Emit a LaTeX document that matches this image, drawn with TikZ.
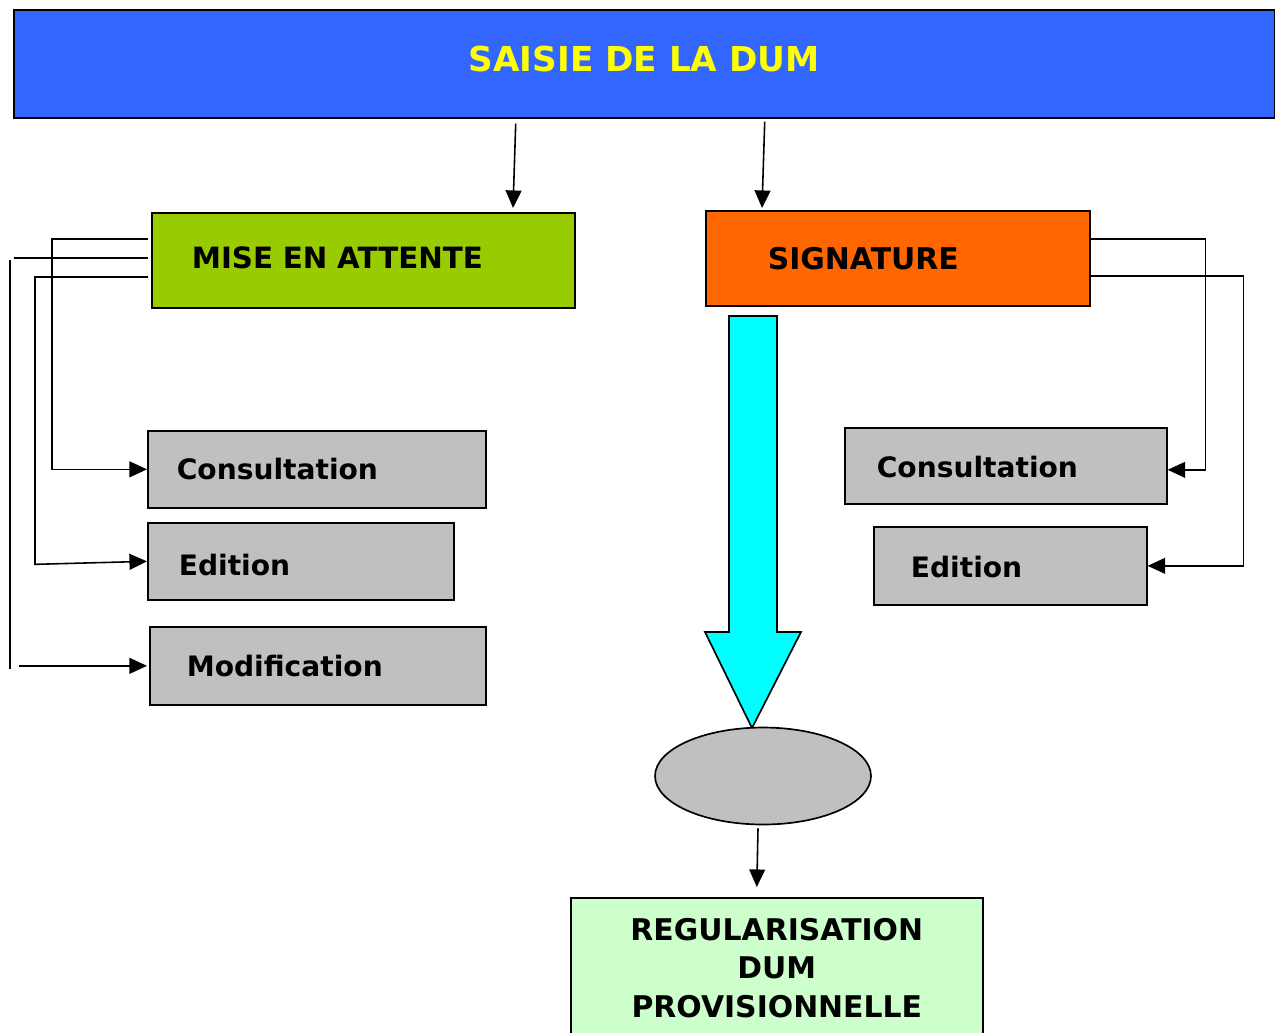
\documentclass[tikz,border=0pt]{standalone}
\usepackage{fontspec}
\setmainfont{DejaVu Sans}
\usepackage{xcolor}
\usepackage{tikz}
\usetikzlibrary{arrows.meta,positioning,shapes.geometric,calc}

\definecolor{saisieblue}{HTML}{3366FF}
\definecolor{attentegreen}{HTML}{99CC00}
\definecolor{signorange}{HTML}{FF6600}
\definecolor{boxgray}{HTML}{C0C0C0}
\definecolor{regulgreen}{HTML}{CCFFCC}
\definecolor{flowcyan}{HTML}{00FFFF}
\definecolor{titleyellow}{HTML}{FFFF00}

\tikzset{
  box/.style={draw, line width=0.95pt, anchor=north west, align=left, inner ysep=0pt,
    font=\bfseries\fontsize{16}{19}\selectfont},
  arr/.style={-{Triangle[length=10pt,width=9pt]}, line width=0.9pt},
  link/.style={line width=0.9pt}
}

\begin{document}
\begin{tikzpicture}[x=0.02cm, y=-0.02cm]
    \clip (0,0) rectangle (1283,1032);

    % Top box
    \node[box, fill=saisieblue, align=center, minimum width=25.22cm, minimum height=2.16cm, text depth=0.2cm,
      font=\bfseries\fontsize{19.5}{23}\selectfont, text=titleyellow] (saisie) at (13,9) {SAISIE DE LA DUM};

    % Second row
    \node[box, fill=attentegreen, minimum height=1.9cm, inner xsep=0.8cm, text width=6.86cm, text depth=0.1cm,
      font=\bfseries\fontsize{16.7}{20}\selectfont] (mise) at (151,212) {MISE EN ATTENTE};
    \node[box, fill=signorange, minimum height=1.9cm, inner xsep=1.24cm, text width=5.2cm,
      font=\bfseries\fontsize{17}{20}\selectfont] (sign) at (705,210) {SIGNATURE};

    % Left actions
    \node[box, fill=boxgray, minimum height=1.54cm, inner xsep=0.58cm, text width=5.6cm] (cons1) at (147,430) {Consultation};
    \node[box, fill=boxgray, minimum height=1.54cm, inner xsep=0.62cm, text width=4.88cm, text height=16pt] (edit1) at (147,522) {Edition};
    \node[box, fill=boxgray, minimum height=1.56cm, inner xsep=0.74cm, text width=5.24cm] (mod) at (149,626) {Modification};

    % Right actions
    \node[box, fill=boxgray, minimum height=1.52cm, inner xsep=0.64cm, text width=5.16cm, text height=13.5pt] (cons2) at (844,427) {Consultation};
    \node[box, fill=boxgray, minimum height=1.56cm, inner xsep=0.74cm, text width=3.98cm, text height=14pt] (edit2) at (873,526) {Edition};

    % Big arrow and ellipse
    \filldraw[fill=flowcyan, line width=0.95pt] (729,316) -- (777,316) -- (777,632) -- (801,632) -- (752,728) -- (705,632) -- (729,632) -- cycle;
    \node[ellipse, draw, line width=0.95pt, fill=boxgray, minimum width=4.32cm, minimum height=1.94cm] (ell) at (763,776) {};

    % Bottom box
    \node[box, fill=regulgreen, align=center, minimum width=8.24cm, minimum height=2.8cm,
      font=\bfseries\fontsize{17}{21.8}\selectfont] (regul) at (570,897) {REGULARISATION\\DUM\\PROVISIONNELLE};

    % Connectors
    \draw[arr] ($(saisie.south)+(-128.5,5)$) -- ($(mise.north west)+(362,-4)$);
    \draw[arr] ($(saisie.south)+(120.5,3)$) -- ($(sign.north west)+(57,-2)$);
    \draw[arr] ($(ell.south)+(-5,3)$) -- ($(regul.north)+(-20,-10)$);

    \draw[arr] ($(mise.north west)+(-3,27)$) -| ($(cons1.west)+(-95,0)$) -- (cons1.west);
    \draw[arr] ($(mise.north west)+(-3,65)$) -| ($(edit1.west)+(-112,3)$) -- (edit1.west);
    \draw[link] ($(mise.north west)+(-3,46)$) -- ($(mise.north west)+(-137,46)$);
    \draw[link] ($(mise.north west)+(-141,48)$) -- ($(mod.west)+(-139,3)$);
    \draw[arr] ($(mod.west)+(-130,0)$) -- ($(mod.west)+(-2,0)$);

    \draw[arr] ($(sign.north east)+(0,29)$) -| ($(cons2.east)+(38,4)$) -- ($(cons2.east)+(0,4)$);
    \draw[arr] ($(sign.north east)+(0,66)$) -| ($(edit2.east)+(96,0)$) -- (edit2.east);
\end{tikzpicture}
\end{document}
